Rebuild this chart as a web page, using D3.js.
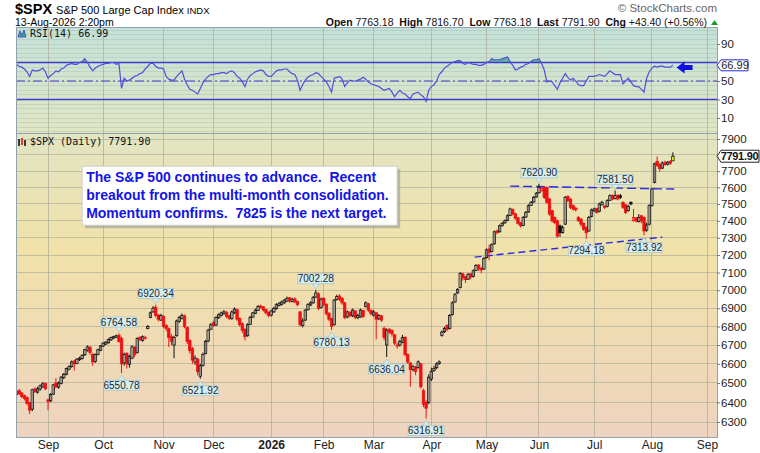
<!DOCTYPE html>
<html>
<head>
<meta charset="utf-8">
<script src="https://cdn.jsdelivr.net/npm/d3@7"></script>
<style>
body { margin: 0; background: #fff; }
svg text { font-family: "Liberation Sans", Arial, sans-serif; white-space: pre; }
.mono { font-family: "DejaVu Sans Mono", monospace !important; }
</style>
</head>
<body>
<div id="chart"></div>
<script>

// trading calendar (weekdays minus market holidays)
var firstDay = "2025-08-14", lastDay = "2026-09-05";
var holidays = ["2025-09-01", "2025-11-27", "2025-12-25", "2026-01-01", "2026-01-19",
    "2026-02-16", "2026-04-03", "2026-05-25", "2026-06-19", "2026-07-03"];

// daily OHLC (Aug 14 2025 .. Aug 13 2026)
var opens = [
    6440,6460,6448,6435,6425,6398,6365,6468,6452,6468,
    6480,6498,6412,6408,6442,6500,6478,6498,6528,6545,
    6572,6585,6615,6602,6622,6628,6648,6672,6688,6650,
    6612,6650,6672,6695,6705,6712,6728,6738,6742,6752,
    6735,6605,6655,6598,6630,6688,6660,6740,6725,6738,
    6790,6850,6880,6905,6862,6835,6855,6805,6788,6745,
    6700,6750,6828,6845,6858,6795,6725,6680,6610,6625,
    6535,6592,6655,6722,6785,6820,6808,6848,6860,6870,
    6878,6858,6842,6875,6892,6845,6815,6785,6750,6812,
    6852,6872,6888,6912,6908,6892,6878,6862,6880,6898,
    6915,6922,6930,6940,6958,6938,6952,6938,6880,6805,
    6835,6892,6918,6930,6962,6980,6905,6955,6922,6872,
    6842,6810,6948,6968,6955,6930,6852,6878,6858,6885,
    6848,6852,6888,6910,6925,6888,6862,6875,6842,6858,
    6790,6700,6785,6778,6755,6695,6700,6715,6740,6650,
    6605,6570,6582,6580,6600,6460,6400,6400,6520,6565,
    6580,6602,6752,6772,6805,6790,6865,6935,6985,7015,
    7092,7075,7062,7092,7078,7112,7142,7125,7120,7185,
    7235,7220,7265,7340,7335,7372,7388,7402,7432,7468,
    7442,7418,7388,7372,7422,7452,7492,7512,7542,7568,
    7580,7598,7600,7530,7460,7420,7400,7370,7330,7380,
    7545,7530,7490,7475,7420,7410,7385,7360,7340,7425,
    7460,7472,7455,7495,7488,7485,7522,7552,7532,7552,
    7550,7510,7495,7460,7510,7400,7415,7395,7430,7420,
    7345,7380,7490,7630,7760,7740,7718,7752,7742,7760,7763.18];

var highs = [
    6470,6468,6452,6440,6430,6402,6470,6478,6480,6492,
    6505,6502,6420,6448,6495,6525,6508,6535,6552,6580,
    6592,6618,6622,6630,6638,6650,6680,6698,6695,6658,
    6655,6680,6700,6715,6722,6736,6745,6750,6756,6764.58,
    6745,6660,6662,6648,6700,6695,6742,6748,6752,6750,
    6808,6882,6912,6920.34,6870,6870,6862,6812,6795,6760,
    6750,6838,6858,6872,6865,6800,6730,6690,6645,6632,
    6600,6660,6728,6788,6818,6832,6856,6872,6882,6890,
    6885,6865,6888,6905,6898,6850,6822,6790,6818,6858,
    6880,6898,6918,6920,6912,6898,6882,6892,6908,6928,
    6935,6942,6952,6965,6962,6958,6960,6942,6885,6845,
    6895,6928,6938,6968,7002.28,6988,6960,6962,6928,6878,
    6848,6952,6975,6978,6962,6935,6888,6885,6898,6890,
    6870,6898,6892,6938,6930,6895,6890,6880,6868,6862,
    6800,6790,6792,6785,6760,6712,6728,6755,6748,6655,
    6610,6595,6590,6618,6605,6470,6410,6545,6580,6590,
    6608,6618,6778,6798,6812,6868,6938,6985,7012,7102,
    7100,7082,7098,7098,7118,7148,7148,7130,7188,7238,
    7260,7268,7342,7348,7378,7392,7408,7438,7478,7472,
    7448,7422,7392,7428,7458,7498,7518,7548,7572,7620.9,
    7610,7605,7606,7535,7465,7425,7405,7378,7372,7548,
    7552,7535,7498,7482,7428,7415,7390,7368,7428,7472,
    7478,7478,7508,7520,7492,7528,7558,7558,7581.5,7558,
    7560,7515,7500,7495,7515,7470,7422,7440,7435,7425,
    7390,7498,7598,7752,7790,7748,7760,7765,7762,7768,7816.7];

var lows = [
    6435,6438,6422,6410,6385,6340,6355,6448,6445,6460,
    6475,6462,6360,6400,6438,6472,6470,6492,6520,6540,
    6565,6580,6565,6598,6615,6622,6642,6665,6648,6590,
    6605,6645,6668,6690,6700,6708,6722,6732,6738,6712,
    6550.78,6590,6575,6580,6625,6635,6655,6720,6718,6730,
    6785,6845,6875,6850,6828,6830,6790,6775,6690,6700,
    6630,6745,6820,6838,6790,6705,6655,6600,6595,6540,
    6521.92,6585,6650,6715,6780,6798,6802,6842,6855,6865,
    6845,6835,6838,6868,6830,6800,6765,6725,6745,6808,
    6848,6868,6885,6898,6882,6865,6850,6855,6875,6892,
    6910,6915,6925,6935,6930,6932,6928,6910,6800,6795,
    6830,6888,6912,6925,6958,6890,6898,6910,6860,6828,
    6780.13,6805,6942,6940,6920,6840,6845,6850,6852,6840,
    6840,6848,6845,6905,6880,6860,6855,6730,6835,6825,
    6725,6636.04,6760,6745,6700,6680,6692,6710,6640,6600,
    6480,6560,6540,6575,6470,6375,6316.91,6390,6510,6558,
    6572,6595,6745,6765,6775,6785,6860,6930,6980,7010,
    7055,7040,7058,7062,7072,7108,7110,7095,7115,7180,
    7170,7215,7260,7320,7330,7365,7382,7398,7428,7432,
    7405,7375,7360,7368,7418,7448,7488,7508,7538,7562,
    7575,7530,7500,7430,7390,7380,7300,7305,7325,7375,
    7512,7470,7460,7455,7395,7365,7340,7294.18,7335,7420,
    7452,7442,7450,7490,7470,7480,7518,7522,7528,7522,
    7530,7470,7440,7455,7492,7395,7390,7390,7385,7313.92,
    7335,7372,7485,7625,7725,7695,7712,7732,7735,7738,7763.18];

var closes = [
    6455,6445,6430,6420,6395,6360,6465,6455,6470,6485,
    6495,6470,6405,6440,6490,6480,6500,6530,6545,6575,
    6585,6610,6600,6625,6630,6645,6675,6690,6660,6610,
    6650,6675,6695,6710,6715,6730,6740,6745,6750,6720,
    6600,6650,6600,6640,6690,6650,6735,6730,6745,6740,
    6800,6875,6900,6860,6840,6860,6800,6790,6740,6720,
    6740,6830,6850,6860,6800,6720,6670,6620,6630,6560,
    6590,6650,6720,6780,6810,6805,6850,6865,6875,6880,
    6855,6845,6880,6895,6840,6810,6780,6745,6810,6850,
    6875,6890,6910,6905,6890,6875,6860,6885,6900,6920,
    6925,6935,6945,6955,6940,6950,6935,6920,6810,6830,
    6890,6920,6930,6960,6985,6900,6950,6920,6870,6840,
    6800,6945,6965,6950,6930,6850,6880,6860,6890,6850,
    6860,6890,6855,6930,6890,6870,6880,6840,6860,6835,
    6740,6780,6770,6760,6710,6700,6720,6740,6650,6610,
    6570,6585,6560,6610,6480,6390,6370,6530,6560,6575,
    6600,6610,6770,6790,6785,6860,6930,6975,7005,7095,
    7070,7060,7090,7075,7110,7140,7120,7115,7180,7230,
    7215,7260,7335,7330,7370,7385,7400,7430,7470,7440,
    7415,7385,7370,7420,7450,7490,7510,7540,7565,7600,
    7595,7540,7510,7440,7400,7390,7310,7330,7360,7540,
    7520,7480,7470,7465,7400,7380,7350,7330,7420,7465,
    7470,7450,7500,7510,7480,7520,7550,7530,7550,7530,
    7540,7480,7450,7485,7500,7420,7400,7420,7400,7340,
    7375,7490,7590,7745,7735,7715,7750,7740,7755,7748.5,7791.9];

// RSI(14) as plotted in the upper panel
var rsiValues = [
    68,66,65,63,60,55,62,61,61,62,
    64,60,53,56,58,61,60,63,64,67,
    68,69,68,68,70,71,74,70,65,61,
    64,66,67,68,69,69,70,70,68,69,
    42,53,50,51,53,55,56,58,59,63,
    66,69,69,66,64,64,63,55,52,51,
    51,55,58,61,52,46,41,40,38,36,
    42,48,52,55,57,57,58,58,59,59,
    58,60,61,59,55,53,49,44,52,56,
    58,60,61,62,61,57,55,55,58,61,
    62,62,63,63,60,58,57,51,40,46,
    51,54,56,57,59,58,55,52,49,44,
    38,53,54,55,52,44,48,51,50,50,
    51,52,54,52,49,47,46,45,44,42,
    40,41,42,38,33,37,40,37,36,33,
    31,36,37,38,35,33,28,40,44,46,
    50,57,60,64,66,68,70,71,72,72,
    69,68,70,69,68,68,67,67,68,70,
    71,74,73,73,73,74,75,76,71,67,
    62,63,65,66,68,69,71,73,73,74,
    69,62,49,50,49,45,41,48,53,58,
    54,51,53,50,46,45,45,50,55,55,
    55,56,57,56,55,58,61,59,57,57,
    57,47,50,53,49,45,44,44,41,38,
    53,60,64,66,65,66,66,65,65,65,66.99];

var priceTicks = [6300,6400,6500,6600,6700,6800,6900,7000,7100,7200,7300,7400,7500,7600,7700,7800,7900];
var priceLabels = [6300,6400,6500,6600,6700,6800,6900,7000,7100,7200,7300,7400,7500,7600,7700,7900]; // 7800 sits under the last-price tag
var rsiTicks = [10, 30, 50, 90];  // 70 sits under the RSI tag
var monthLabels = ["Sep","Oct","Nov","Dec","2026","Feb","Mar","Apr","May","Jun","Jul","Aug","Sep"];

// swing highs / lows that carry a value tag
var markIdx  = [39, 40, 53, 70, 114, 120, 141, 156, 199, 217, 228, 239];
var markType = ["hi","lo","hi","lo","hi","lo","lo","lo","hi","lo","hi","lo"];

// hand drawn trend lines (day index, price)
var resistIdx = [188, 250.5], resistPrice = [7608, 7590];
var supportIdx = [174.5, 246], supportPrice = [7188, 7304];

var quoteLabels = ["Open", "High", "Low", "Last", "Chg"];
var quoteValues = ["7763.18", "7816.70", "7763.18", "7791.90", "+43.40 (+0.56%)"];
var noteLines = ["The S&P 500 continues to advance.  Recent",
    "breakout from the multi-month consolidation.",
    "Momentum confirms.  7825 is the next target."];


CandleChart = function(_parentElement){
    this.parentElement = _parentElement;
    this.initVis();
}

CandleChart.prototype.initVis = function(){
    var vis = this;

    vis.left = 16; vis.right = 717;
    vis.rsiTop = 27; vis.rsiBottom = 133;
    vis.pTop = 133; vis.pBottom = 437;

    vis.svg = d3.select("#" + vis.parentElement).append("svg")
        .attr("width", 760)
        .attr("height", 453);

    // trading days
    var parse = d3.timeParse("%Y-%m-%d"), fmt = d3.timeFormat("%Y-%m-%d");
    vis.days = d3.timeDay.range(parse(firstDay), parse(lastDay)).filter(function(d){
        var w = d.getDay();
        return w > 0 && w < 6 && holidays.indexOf(fmt(d)) < 0;
    });
    vis.monthStarts = [];
    vis.days.forEach(function(d, i){
        if (i > 0 && d.getMonth() != vis.days[i-1].getMonth()) vis.monthStarts.push(i);
    });

    vis.x = d3.scaleLinear()
        .domain([-0.2, vis.days.length - 0.2])
        .range([vis.left, vis.right]);
    vis.y = d3.scaleLog()
        .domain([6225, 7938])
        .range([vis.pBottom, vis.pTop]);
    vis.ry = d3.scaleLinear()
        .domain([-6.2, 108.4])
        .range([vis.rsiBottom, vis.rsiTop]);

    var defs = vis.svg.append("defs");
    var g1 = defs.append("linearGradient").attr("id", "rsiBg")
        .attr("x1", 0).attr("y1", 0).attr("x2", 0).attr("y2", 1);
    g1.append("stop").attr("offset", "0%").attr("stop-color", "#c3e1d9");
    g1.append("stop").attr("offset", "100%").attr("stop-color", "#e2e6c2");
    var g2 = defs.append("linearGradient").attr("id", "priceBg")
        .attr("x1", 0).attr("y1", 0).attr("x2", 0).attr("y2", 1);
    g2.append("stop").attr("offset", "0%").attr("stop-color", "#e1e5c3");
    g2.append("stop").attr("offset", "38%").attr("stop-color", "#f1e2a9");
    g2.append("stop").attr("offset", "100%").attr("stop-color", "#eed3c0");

    defs.append("clipPath").attr("id", "clipP").append("rect")
        .attr("x", vis.left).attr("y", vis.pTop)
        .attr("width", vis.right - vis.left).attr("height", vis.pBottom - vis.pTop);
    defs.append("clipPath").attr("id", "clipR").append("rect")
        .attr("x", vis.left).attr("y", vis.rsiTop)
        .attr("width", vis.right - vis.left).attr("height", vis.rsiBottom - vis.rsiTop);

    vis.svg.append("rect")
        .attr("x", vis.left).attr("y", vis.rsiTop)
        .attr("width", vis.right - vis.left).attr("height", vis.rsiBottom - vis.rsiTop)
        .attr("fill", "url(#rsiBg)");
    vis.svg.append("rect")
        .attr("x", vis.left).attr("y", vis.pTop)
        .attr("width", vis.right - vis.left).attr("height", vis.pBottom - vis.pTop)
        .attr("fill", "url(#priceBg)");

    vis.wrangleData();
}

CandleChart.prototype.wrangleData = function(){
    var vis = this;

    vis.bars = closes.map(function(c, i){
        return {i: i, o: opens[i], h: highs[i], l: lows[i], c: c,
            prev: i > 0 ? closes[i-1] : opens[i]};
    });
    vis.rsi = rsiValues.map(function(r, i){ return {i: i, r: r}; });

    vis.updateVis();
}

CandleChart.prototype.updateVis = function(){
    var vis = this;
    var svg = vis.svg;

    // grid
    var grid = svg.append("g").attr("shape-rendering", "crispEdges");
    grid.selectAll(".pg").data(priceTicks).enter().append("line")
        .attr("x1", vis.left).attr("x2", vis.right)
        .attr("y1", function(d){ return vis.y(d); }).attr("y2", function(d){ return vis.y(d); })
        .attr("stroke", "#b3b19b").attr("stroke-opacity", 0.75);
    grid.selectAll(".rg").data(d3.range(-5, 110, 5)).enter().append("line")
        .attr("x1", vis.left).attr("x2", vis.right)
        .attr("y1", function(d){ return vis.ry(d); }).attr("y2", function(d){ return vis.ry(d); })
        .attr("stroke", "#a9bfb5").attr("stroke-opacity", 0.45);
    grid.selectAll(".vg").data(vis.monthStarts).enter().append("line")
        .attr("x1", function(d){ return vis.x(d); }).attr("x2", function(d){ return vis.x(d); })
        .attr("y1", vis.rsiTop).attr("y2", vis.pBottom)
        .attr("stroke", "#adaf9a").attr("stroke-opacity", 0.75);

    // ---- RSI panel
    var rp = svg.append("g").attr("clip-path", "url(#clipR)");
    var over = d3.area()
        .x(function(d){ return vis.x(d.i); })
        .y0(vis.ry(70))
        .y1(function(d){ return vis.ry(Math.max(d.r, 70)); });
    rp.append("path").datum(vis.rsi).attr("d", over)
        .attr("fill", "#3fa88a").attr("fill-opacity", 0.75);
    var under = d3.area()
        .x(function(d){ return vis.x(d.i); })
        .y0(vis.ry(30))
        .y1(function(d){ return vis.ry(Math.min(d.r, 30)); });
    rp.append("path").datum(vis.rsi).attr("d", under)
        .attr("fill", "#3fa88a").attr("fill-opacity", 0.75);

    [70, 30].forEach(function(v){
        rp.append("line").attr("x1", vis.left).attr("x2", vis.right)
            .attr("y1", vis.ry(v)).attr("y2", vis.ry(v))
            .attr("stroke", "#3a3ad0").attr("stroke-width", 1.6);
    });
    rp.append("line").attr("x1", vis.left).attr("x2", vis.right)
        .attr("y1", vis.ry(50)).attr("y2", vis.ry(50))
        .attr("stroke", "#3a3ad0").attr("stroke-width", 1.1)
        .attr("stroke-dasharray", "9,3,2,3");

    var rline = d3.line()
        .x(function(d){ return vis.x(d.i); })
        .y(function(d){ return vis.ry(d.r); });
    rp.append("path").datum(vis.rsi).attr("d", rline)
        .attr("fill", "none").attr("stroke", "#4f4fd8").attr("stroke-width", 1.2);

    // annotation arrow pointing at the latest RSI
    var ax = vis.x(251.4), ay = vis.ry(64.5);
    svg.append("path")
        .attr("d", "M" + ax + "," + ay + "l8,-6v3.5h8v5h-8v3.5z")
        .attr("fill", "#1010e6");

    // ---- price panel
    var pp = svg.append("g").attr("clip-path", "url(#clipP)");

    var trend = d3.line()
        .x(function(d){ return vis.x(d[0]); })
        .y(function(d){ return vis.y(d[1]); });
    pp.append("path").datum(d3.zip(resistIdx, resistPrice)).attr("d", trend)
        .attr("stroke", "#2b2be6").attr("stroke-width", 1.4).attr("fill", "none")
        .attr("stroke-dasharray", "9,4");
    pp.append("path").datum(d3.zip(supportIdx, supportPrice)).attr("d", trend)
        .attr("stroke", "#2b2be6").attr("stroke-width", 1.4).attr("fill", "none")
        .attr("stroke-dasharray", "7,4");

    var last = vis.bars.length - 1;
    var colorOf = function(d){ return d.c >= d.prev ? "#111" : "#ee1111"; };

    var candle = pp.selectAll(".candle").data(vis.bars).enter().append("g")
        .attr("class", "candle");
    candle.append("line")
        .attr("x1", function(d){ return vis.x(d.i); })
        .attr("x2", function(d){ return vis.x(d.i); })
        .attr("y1", function(d){ return vis.y(d.h); })
        .attr("y2", function(d){ return vis.y(d.l); })
        .attr("stroke", colorOf).attr("stroke-width", 1);
    candle.append("rect")
        .attr("x", function(d){ return vis.x(d.i) - 1.2; })
        .attr("width", 2.4)
        .attr("y", function(d){ return vis.y(Math.max(d.o, d.c)); })
        .attr("height", function(d){ return Math.max(1, vis.y(Math.min(d.o, d.c)) - vis.y(Math.max(d.o, d.c))); })
        .attr("stroke", colorOf).attr("stroke-width", 0.8)
        .attr("fill", function(d){
            if (d.i == last) return "#ffff2a";
            return d.c > d.o ? "rgba(255,255,255,0.45)" : colorOf(d);
        });

    // value tags on swing highs / lows
    var tags = svg.append("g");
    markIdx.forEach(function(i, k){
        var hi = markType[k] == "hi";
        var v = hi ? highs[i] : lows[i];
        var x = vis.x(i), y = vis.y(v);
        var w = 36, h = 10;
        var tip = hi ? y - 1 : y + 2;
        var by = hi ? tip - 5 - h : tip + 5;
        tags.append("path")
            .attr("d", hi
                ? "M" + (x-4) + "," + (tip-5.5) + "L" + x + "," + tip + "L" + (x+4) + "," + (tip-5.5) + "Z"
                : "M" + (x-4) + "," + (tip+5.5) + "L" + x + "," + tip + "L" + (x+4) + "," + (tip+5.5) + "Z")
            .attr("fill", "#d3ecec").attr("stroke", "#a8c6c8").attr("stroke-width", 0.8);
        tags.append("rect")
            .attr("x", x - w/2).attr("y", by).attr("width", w).attr("height", h)
            .attr("fill", "#d6eeee").attr("stroke", "#a8c6c8").attr("stroke-width", 0.8);
        tags.append("text")
            .attr("x", x).attr("y", by + h - 1.5)
            .attr("text-anchor", "middle")
            .style("font-size", "10px").attr("fill", "#1c2430")
            .text(v.toFixed(2));
    });

    // comment box
    var nx = vis.x(25), ny = vis.y(7730);
    svg.append("rect").attr("x", nx + 3).attr("y", ny + 3).attr("width", 315).attr("height", 59)
        .attr("fill", "#9a9a92").attr("fill-opacity", 0.6);
    svg.append("rect").attr("x", nx).attr("y", ny).attr("width", 315).attr("height", 59)
        .attr("fill", "#fff").attr("stroke", "#c8c8c8").attr("stroke-width", 0.8);
    noteLines.forEach(function(t, k){
        svg.append("text").attr("x", nx + 4).attr("y", ny + 16 + k * 18)
            .style("font-size", "14px").style("font-weight", "bold")
            .attr("fill", "#1414e8").text(t);
    });

    // panel frames
    svg.append("rect").attr("x", vis.left + 0.5).attr("y", vis.rsiTop + 0.5)
        .attr("width", vis.right - vis.left).attr("height", vis.pBottom - vis.rsiTop)
        .attr("fill", "none").attr("stroke", "#93a3ad");
    svg.append("line").attr("x1", vis.left).attr("x2", vis.right)
        .attr("y1", vis.pTop + 0.5).attr("y2", vis.pTop + 0.5)
        .attr("stroke", "#93a3ad");

    // axes
    var yAxis = d3.axisRight(vis.y).tickValues(priceLabels).tickFormat(d3.format("d"))
        .tickSize(3).tickPadding(1);
    var ya = svg.append("g").attr("transform", "translate(" + vis.right + ",0)").call(yAxis);
    var rAxis = d3.axisRight(vis.ry).tickValues(rsiTicks).tickSize(3).tickPadding(1);
    var ra = svg.append("g").attr("transform", "translate(" + vis.right + ",0)").call(rAxis);
    var xAxis = d3.axisBottom(vis.x).tickValues(vis.monthStarts)
        .tickFormat(function(d, k){ return monthLabels[k]; })
        .tickSize(0).tickPadding(3);
    var xa = svg.append("g").attr("transform", "translate(0," + vis.pBottom + ")").call(xAxis);

    [ya, ra, xa].forEach(function(a){
        a.select(".domain").remove();
        a.selectAll("line").attr("stroke", "#777");
        a.selectAll("text").attr("fill", "#222")
            .style("font-family", "'Liberation Sans', Arial, sans-serif");
    });
    ya.selectAll("text").style("font-size", "11.5px");
    ra.selectAll("text").style("font-size", "11.5px");
    xa.selectAll("text").style("font-size", "12px")
        .style("font-weight", function(d, k){ return monthLabels[k] == "2026" ? "bold" : "normal"; });

    // value tag on the RSI axis
    var rv = rsiValues[last], ryv = vis.ry(rv);
    svg.append("path")
        .attr("d", "M" + vis.right + "," + ryv + "l4,-5.5h27v11h-27z")
        .attr("fill", "#fff").attr("stroke", "#2a2ad8").attr("stroke-width", 1);
    svg.append("text").attr("x", vis.right + 18).attr("y", ryv + 4)
        .attr("text-anchor", "middle").style("font-size", "11px").attr("fill", "#222")
        .text(rv.toFixed(2));

    // last price tag
    var lp = closes[last], lpy = vis.y(lp);
    svg.append("path")
        .attr("d", "M" + vis.right + "," + lpy + "l4,-6h38v12h-38z")
        .attr("fill", "#fff").attr("stroke", "#222").attr("stroke-width", 1);
    svg.append("text").attr("x", vis.right + 22.5).attr("y", lpy + 4)
        .attr("text-anchor", "middle").style("font-size", "11px").style("font-weight", "bold")
        .style("letter-spacing", "-0.3px")
        .attr("fill", "#111").text(lp.toFixed(2));

    // panel titles
    var ri = svg.append("g");
    ri.append("path").attr("d", "M18,37 L20,31 L22,35 L24,30 L26,37 Z")
        .attr("fill", "#3fa88a").attr("stroke", "#3a3ad0").attr("stroke-width", 0.8);
    svg.append("text").attr("class", "mono").attr("x", 30).attr("y", 37)
        .style("font-size", "10px").attr("fill", "#111")
        .text("RSI(14) " + rv.toFixed(2));

    var pi = svg.append("g");
    [[19, 139, 146, "#111"], [22, 138, 145, "#ee1111"], [25, 140, 146, "#111"]].forEach(function(c){
        pi.append("line").attr("x1", c[0]).attr("x2", c[0]).attr("y1", c[1]).attr("y2", c[2])
            .attr("stroke", c[3]).attr("stroke-width", 1.6);
    });
    svg.append("text").attr("class", "mono").attr("x", 30).attr("y", 145)
        .style("font-size", "10px").attr("fill", "#111")
        .text("$SPX (Daily) " + lp.toFixed(2));

    // header
    var t1 = svg.append("text").attr("x", 15).attr("y", 14);
    t1.append("tspan").style("font-size", "14.5px").style("font-weight", "bold").text("$SPX ");
    t1.append("tspan").style("font-size", "11px").text("S&P 500 Large Cap Index ");
    t1.append("tspan").style("font-size", "9.5px").text("INDX");
    svg.append("text").attr("x", 15).attr("y", 26).style("font-size", "10.5px")
        .text("13-Aug-2026 2:20pm");

    var q = svg.append("text").attr("x", 707).attr("y", 26).attr("text-anchor", "end")
        .style("font-size", "10.5px").attr("fill", "#111");
    quoteLabels.forEach(function(l, k){
        q.append("tspan").style("font-weight", "bold").text((k ? "  " : "") + l + " ");
        q.append("tspan").text(quoteValues[k]);
    });
    svg.append("path").attr("d", "M711,25 L714.5,20 L718,25 Z").attr("fill", "#1a9a2a");

    svg.append("text").attr("x", 717).attr("y", 12).attr("text-anchor", "end")
        .style("font-size", "11.5px").attr("fill", "#666")
        .text("\u00a9 StockCharts.com");
}

new CandleChart("chart");
</script>
</body>
</html>
